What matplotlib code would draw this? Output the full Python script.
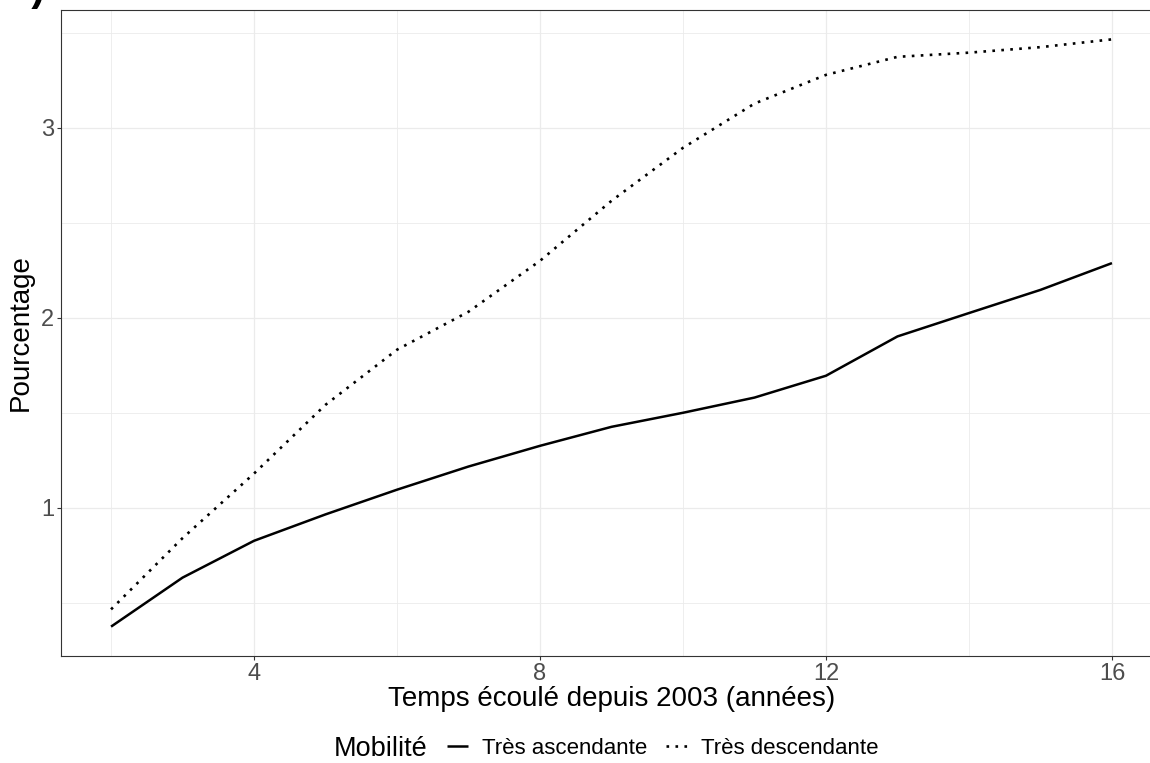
import matplotlib
matplotlib.use('Agg')
import matplotlib.pyplot as plt

# années écoulées depuis 2003 et pourcentages par type de mobilité
annees = [2, 3, 4, 5, 6, 7, 8, 9, 10, 11, 12, 13, 14, 15, 16]
tres_ascendante = [0.374, 0.632, 0.826, 0.965, 1.095, 1.217, 1.326, 1.426, 1.500,
                   1.580, 1.695, 1.902, 2.025, 2.147, 2.288]
tres_descendante = [0.465, 0.840, 1.180, 1.542, 1.832, 2.032, 2.300, 2.616, 2.895,
                    3.128, 3.279, 3.374, 3.396, 3.425, 3.466]

x_ticks = [4, 8, 12, 16]
y_ticks = [1, 2, 3]
x_minor = [2, 6, 10, 14]
y_minor = [0.5, 1.5, 2.5, 3.5]

plt.rcParams['font.family'] = ['Liberation Sans', 'DejaVu Sans']

fig = plt.figure(figsize=(11.5, 7.63), dpi=100)
ax = fig.add_axes([61 / 1150, 107 / 763, 1101 / 1150, 646 / 763])

ligne_asc, = ax.plot(annees, tres_ascendante, color='black', lw=1.8,
                     solid_capstyle='butt', label='Très ascendante')
ligne_desc, = ax.plot(annees, tres_descendante, color='black', lw=1.9,
                      linestyle=(0, (1, 2.4)), dash_capstyle='butt',
                      label='Très descendante')

# expansion de 5 % comme ggplot
x_ext = (max(annees) - min(annees)) * 0.05
ax.set_xlim(min(annees) - x_ext, max(annees) + x_ext)
y_min = min(tres_ascendante + tres_descendante)
y_max = max(tres_ascendante + tres_descendante)
y_ext = (y_max - y_min) * 0.05
ax.set_ylim(y_min - y_ext, y_max + y_ext)

ax.set_xticks(x_ticks)
ax.set_yticks(y_ticks)
ax.set_xticks(x_minor, minor=True)
ax.set_yticks(y_minor, minor=True)
ax.grid(which='major', color='#EBEBEB', lw=0.9)
ax.grid(which='minor', color='#EBEBEB', lw=0.6)
ax.set_axisbelow(True)

for s in ax.spines.values():
    s.set_color('#333333')
    s.set_linewidth(0.8)

ax.tick_params(which='major', length=3, width=0.8, color='#333333',
               labelsize=17, labelcolor='#4D4D4D', pad=2)
ax.tick_params(which='minor', length=0)

ax.set_xlabel('Temps écoulé depuis 2003 (années)', fontsize=20)
ax.xaxis.set_label_coords(0.5, -0.047)
ax.set_ylabel('Pourcentage', fontsize=20)
ax.yaxis.set_label_coords(-0.0245, 0.5)

# légende en bas, titre à gauche des clés
fig.text(334 / 1150, 1 - 756 / 763, 'Mobilité', fontsize=19.5, va='baseline', ha='left')
fig.legend(handles=[ligne_asc, ligne_desc], loc='center left',
           bbox_to_anchor=(447 / 1150, 1 - 748 / 763), ncol=2, frameon=False,
           fontsize=16, handlelength=0.95, handletextpad=0.64,
           columnspacing=0.82, borderpad=0, borderaxespad=0)

# étiquette du panneau, coupée en haut
fig.text(6 / 1150, 1.0, 'b)', fontsize=30, fontweight='bold',
         va='baseline', ha='left')

plt.savefig('out.png', dpi=100)
